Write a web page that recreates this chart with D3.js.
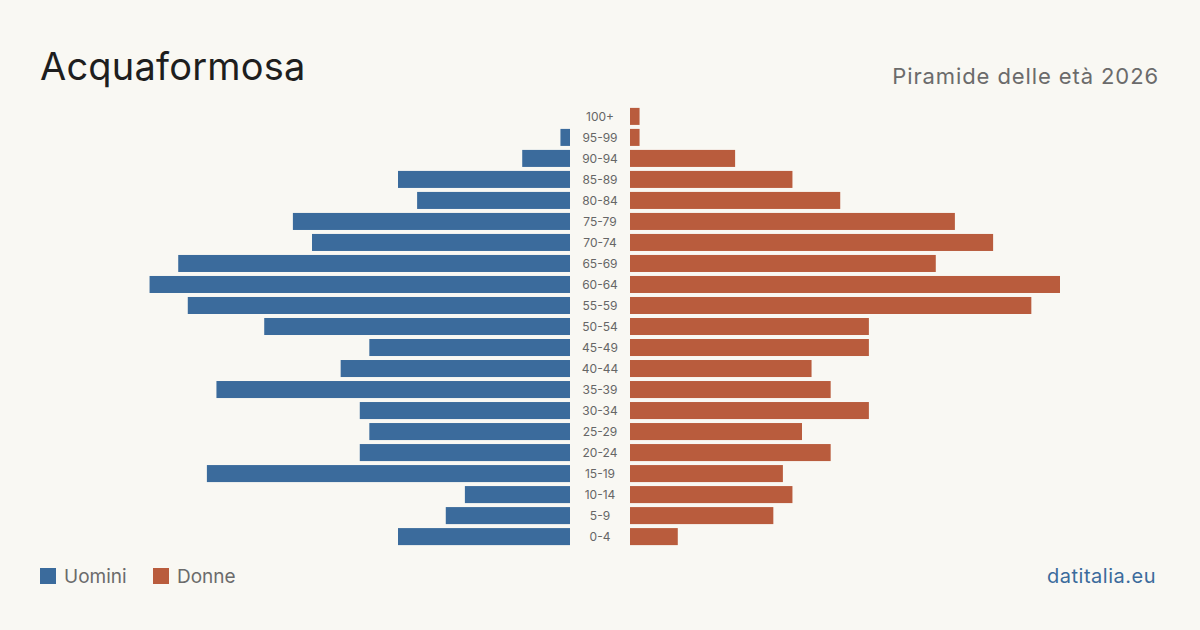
<!DOCTYPE html>
<html>
<head>
<meta charset="utf-8">
<script src="https://cdn.jsdelivr.net/npm/d3@7"></script>
<style>
  body { margin: 0; background: #f9f8f3; }
  svg { display: block; font-family: Inter, "Noto Sans", sans-serif; }
</style>
</head>
<body>
<div id="chart"></div>
<script>
var ageGroups = ["100+", "95-99", "90-94", "85-89", "80-84", "75-79", "70-74", "65-69", "60-64", "55-59",
  "50-54", "45-49", "40-44", "35-39", "30-34", "25-29", "20-24", "15-19", "10-14", "5-9", "0-4"];
var uomini = [0, 1, 5, 18, 16, 29, 27, 41, 44, 40, 32, 21, 24, 37, 22, 21, 22, 38, 11, 13, 18];
var donne = [1, 1, 11, 17, 22, 34, 38, 32, 45, 42, 25, 25, 19, 21, 25, 18, 21, 16, 17, 15, 5];

var width = 1200, height = 630;
var blue = "#3b6b9c", red = "#b95c3d";

var svg = d3.select("#chart").append("svg")
    .attr("width", width)
    .attr("height", height);

svg.append("rect").attr("width", width).attr("height", height).attr("fill", "#f9f8f3");

var y = d3.scaleBand()
    .domain(ageGroups)
    .range([106, 547])
    .paddingInner(0.19)
    .paddingOuter(0.09);

// same scale both sides, mirrored around the label column
var xLeft = d3.scaleLinear().domain([0, 45]).range([570, 140]);
var xRight = d3.scaleLinear().domain([0, 45]).range([630, 1060]);

svg.append("g").selectAll("rect")
    .data(ageGroups)
    .enter().append("rect")
    .attr("x", function (d, i) { return xLeft(uomini[i]); })
    .attr("y", function (d) { return y(d); })
    .attr("width", function (d, i) { return xLeft(0) - xLeft(uomini[i]); })
    .attr("height", y.bandwidth())
    .attr("fill", blue);

svg.append("g").selectAll("rect")
    .data(ageGroups)
    .enter().append("rect")
    .attr("x", xRight(0))
    .attr("y", function (d) { return y(d); })
    .attr("width", function (d, i) { return xRight(donne[i]) - xRight(0); })
    .attr("height", y.bandwidth())
    .attr("fill", red);

svg.append("g").selectAll("text")
    .data(ageGroups)
    .enter().append("text")
    .attr("x", 600)
    .attr("y", function (d) { return y(d) + y.bandwidth() / 2; })
    .attr("dy", "0.35em")
    .attr("text-anchor", "middle")
    .attr("font-size", 12)
    .attr("fill", "#666")
    .text(function (d) { return d; });

// titles
svg.append("text")
    .attr("x", 40).attr("y", 80)
    .attr("font-size", 38)
    .attr("letter-spacing", 0.2)
    .attr("fill", "#1e1e1e")
    .text("Acquaformosa");

svg.append("text")
    .attr("x", 1159).attr("y", 84)
    .attr("text-anchor", "end")
    .attr("font-size", 22)
    .attr("letter-spacing", 0.9)
    .attr("fill", "#6b6b6b")
    .text("Piramide delle età 2026");

// legend
var legend = [{ name: "Uomini", color: blue, x: 40 }, { name: "Donne", color: red, x: 153 }];
var lg = svg.append("g").selectAll("g")
    .data(legend)
    .enter().append("g")
    .attr("transform", function (d) { return "translate(" + d.x + ",568)"; });
lg.append("rect").attr("width", 16).attr("height", 16).attr("fill", function (d) { return d.color; });
lg.append("text")
    .attr("x", 24).attr("y", 8).attr("dy", "0.35em")
    .attr("font-size", 19)
    .attr("fill", "#6b6b6b")
    .text(function (d) { return d.name; });

svg.append("text")
    .attr("x", 1156).attr("y", 583)
    .attr("text-anchor", "end")
    .attr("font-size", 20)
    .attr("letter-spacing", 0.5)
    .attr("fill", "#3b6b9c")
    .text("datitalia.eu");
</script>
</body>
</html>
